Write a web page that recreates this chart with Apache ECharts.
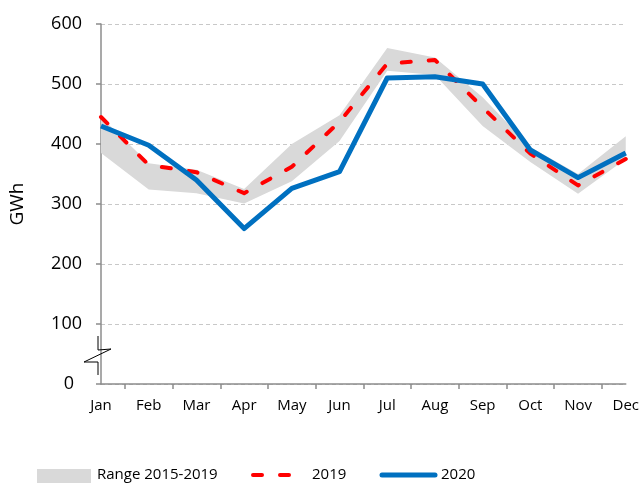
<!DOCTYPE html>
<html>
<head>
<meta charset="utf-8">
<script src="https://cdn.jsdelivr.net/npm/echarts@6/dist/echarts.min.js"></script>
<style>
  html, body { margin: 0; padding: 0; background: #ffffff; }
  #chart { width: 642px; height: 483px; }
</style>
</head>
<body>
<div id="chart"></div>
<script>
// Monthly generation, GWh
const months = ['Jan', 'Feb', 'Mar', 'Apr', 'May', 'Jun', 'Jul', 'Aug', 'Sep', 'Oct', 'Nov', 'Dec'];
const rangeLow  = [385, 324, 318, 301, 338, 405, 522, 515, 430, 370, 317, 375];
const rangeHigh = [445, 368, 357, 325, 400, 448, 560, 544, 478, 395, 350, 413];
const values2019 = [445, 365, 353, 318, 362, 437, 534, 540, 461, 384, 331, 375];
const values2020 = [430, 398, 340, 259, 326, 354, 510, 512, 500, 390, 344, 385];
const yTicks = { min: 0, max: 600, interval: 100 };
const legendNames = ['Range 2015-2019', '2019', '2020'];

const FONT = 'Open Sans';
const AXIS_GREY = '#8c8c8c';
const RANGE_GREY = '#d9d9d9';
const RED = '#ff0000';
const BLUE = '#0070c0';
const RED_DASH = [9, 18];

const chart = echarts.init(document.getElementById('chart'), null, { renderer: 'canvas' });

const rangeSpan = rangeHigh.map((h, i) => h - rangeLow[i]);

// legend row along the bottom edge
const legendY = 475;
const legendFont = { fontFamily: FONT, fontSize: 15, fill: '#000' };
const legendGraphics = [
  { type: 'rect', shape: { x: 37, y: 469, width: 54, height: 16 }, style: { fill: RANGE_GREY } },
  { type: 'text', x: 97, y: legendY, style: Object.assign({ text: legendNames[0], verticalAlign: 'middle' }, legendFont) },
  { type: 'line', shape: { x1: 253, y1: legendY, x2: 304, y2: legendY },
    style: { stroke: RED, lineWidth: 4, lineDash: RED_DASH, lineCap: 'round' } },
  { type: 'text', x: 312, y: legendY, style: Object.assign({ text: legendNames[1], verticalAlign: 'middle' }, legendFont) },
  { type: 'line', shape: { x1: 382, y1: legendY, x2: 435, y2: legendY },
    style: { stroke: BLUE, lineWidth: 5, lineCap: 'round' } },
  { type: 'text', x: 441, y: legendY, style: Object.assign({ text: legendNames[2], verticalAlign: 'middle' }, legendFont) }
];

chart.setOption({
  animation: false,
  textStyle: { fontFamily: FONT, color: '#000' },
  grid: { left: 100, right: 14, top: 24, bottom: 99, containLabel: false },
  xAxis: [
    {
      type: 'category',
      data: months,
      boundaryGap: false,
      axisLine: { lineStyle: { color: AXIS_GREY, width: 1.5 } },
      axisTick: { show: false },
      axisLabel: { fontFamily: FONT, fontSize: 15, color: '#000', margin: 14 },
      splitLine: { show: false }
    },
    {
      // tick marks sit between the month labels
      type: 'category',
      data: months.slice(1),
      boundaryGap: true,
      position: 'bottom',
      axisLine: { show: false },
      axisTick: { show: true, alignWithLabel: true, length: 5, lineStyle: { color: AXIS_GREY, width: 1.5 } },
      axisLabel: { show: false },
      splitLine: { show: false }
    }
  ],
  yAxis: {
    type: 'value',
    min: yTicks.min,
    max: yTicks.max,
    interval: yTicks.interval,
    name: 'GWh',
    nameLocation: 'middle',
    nameGap: 74,
    nameRotate: 90,
    nameTextStyle: { fontFamily: FONT, fontSize: 19, color: '#000' },
    axisLine: { show: true, lineStyle: { color: AXIS_GREY, width: 1.5 } },
    axisTick: { show: true, length: 5, lineStyle: { color: AXIS_GREY, width: 1.5 } },
    axisLabel: {
      fontFamily: FONT, fontSize: 18, color: '#000', margin: 19,
      formatter: v => (v === 0 ? '{z|0}' : String(v)),
      rich: { z: { fontFamily: FONT, fontSize: 18, color: '#000', padding: [0, 8, 0, 0] } }
    },
    splitLine: {
      show: true,
      lineStyle: { color: '#c8c8c8', type: [4, 3], width: 1 }
    }
  },
  series: [
    {
      name: 'range-base',
      type: 'line',
      stack: 'range',
      data: rangeLow,
      symbol: 'none',
      lineStyle: { width: 0, opacity: 0 },
      areaStyle: { opacity: 0 },
      silent: true
    },
    {
      name: legendNames[0],
      type: 'line',
      stack: 'range',
      data: rangeSpan,
      symbol: 'none',
      lineStyle: { width: 0, opacity: 0 },
      itemStyle: { color: RANGE_GREY },
      areaStyle: { color: RANGE_GREY, opacity: 1 },
      silent: true
    },
    {
      name: legendNames[1],
      type: 'line',
      data: values2019,
      symbol: 'none',
      itemStyle: { color: RED },
      lineStyle: { color: RED, width: 4, type: RED_DASH, cap: 'round', join: 'round' },
      z: 3
    },
    {
      name: legendNames[2],
      type: 'line',
      data: values2020,
      symbol: 'none',
      itemStyle: { color: BLUE },
      lineStyle: { color: BLUE, width: 5, join: 'round' },
      z: 4
    }
  ],
  graphic: [
    {
      // axis break mark
      type: 'polyline',
      z: 10,
      shape: {
        points: [[98, 336], [98, 350], [111, 349], [84, 362], [98, 362], [98, 375]]
      },
      style: { stroke: '#000', lineWidth: 1, fill: null }
    }
  ].concat(legendGraphics)
});
</script>
</body>
</html>
